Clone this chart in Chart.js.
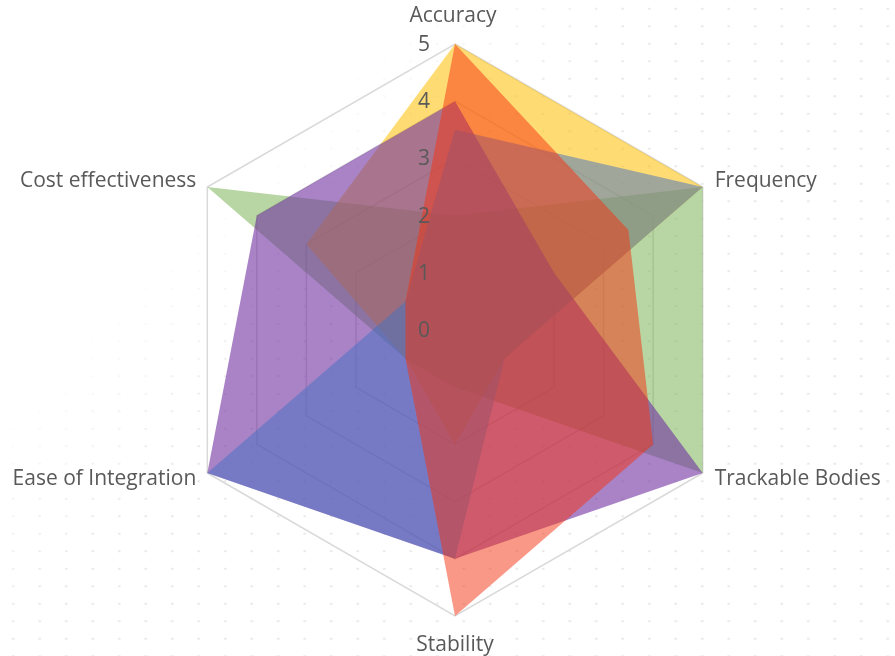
<!DOCTYPE html>
<html>
<head>
<meta charset="utf-8">
<script src="https://cdn.jsdelivr.net/npm/chart.js@4.4.1/dist/chart.umd.min.js"></script>
<style>
  html, body { margin: 0; padding: 0; background: #fff; }
  #wrap { position: relative; width: 895px; height: 656px; overflow: hidden; }
  #dots {
    position: absolute; left: 0; top: 0; width: 895px; height: 656px;
    background-image: radial-gradient(ellipse 1.6px 1.1px, #d4d4d4 60%, transparent 100%);
    background-size: 26.5px 17.5px;
    -webkit-mask-image: linear-gradient(135deg, transparent 0%, transparent 26%, #000 42%);
    mask-image: linear-gradient(135deg, transparent 0%, transparent 26%, #000 42%);
    opacity: 0.6;
  }
  #chart { position: absolute; left: 0; top: 0; }
</style>
</head>
<body>
<div id="wrap">
  <div id="dots"></div>
  <canvas id="chart" width="895" height="656"></canvas>
</div>
<script>
const labels = ['Accuracy', 'Frequency', 'Trackable Bodies', 'Stability', 'Ease of Integration', 'Cost effectiveness'];
const tickLabels = ['0', '1', '2', '3', '4', '5'];

const goldValues = [5, 5, 1, 2, 1, 3];
const greenValues = [2, 5, 5, 1, 1, 5];
const purpleValues = [4, 2, 5, 4, 5, 4];
const blueValues = [3.5, 5, 1, 4, 5, 1];
const redValues = [5, 3.5, 4, 5, 1, 1];

// label placement around the outer ring: [dx, dy, align]
const labelPlace = [
  [-2, -28, 'center'],
  [12, -6, 'left'],
  [12, 6, 'left'],
  [0, 29, 'center'],
  [-11, 6, 'right'],
  [-11, -6, 'right']
];

const textPlugin = {
  id: 'textPlugin',
  afterDatasetsDraw(chart) {
    const r = chart.scales.r;
    const ctx = chart.ctx;
    ctx.save();
    ctx.fillStyle = '#595959';
    ctx.font = '21px "Open Sans"';
    ctx.textBaseline = 'middle';

    ctx.textAlign = 'center';
    tickLabels.forEach(t => {
      const d = r.getDistanceFromCenterForValue(Number(t));
      ctx.fillText(t, r.xCenter - 31, r.yCenter - d + 1);
    });

    labels.forEach((name, i) => {
      const p = r.getPointPosition(i, r.drawingArea);
      const [dx, dy, align] = labelPlace[i];
      ctx.textAlign = align;
      ctx.fillText(name, p.x + dx, p.y + dy);
    });
    ctx.restore();
  }
};

function series(label, data, color) {
  return { label, data, backgroundColor: color, borderWidth: 0, pointRadius: 0, fill: true };
}

// first dataset is drawn on top
new Chart(document.getElementById('chart'), {
  type: 'radar',
  data: {
    labels,
    datasets: [
      series('Series 5', redValues, 'rgba(245, 50, 15, 0.5)'),
      series('Series 4', blueValues, 'rgba(68, 114, 196, 0.5)'),
      series('Series 3', purpleValues, 'rgba(112, 48, 160, 0.6)'),
      series('Series 1', goldValues, 'rgba(255, 192, 0, 0.55)'),
      series('Series 2', greenValues, 'rgba(112, 173, 71, 0.5)')
    ]
  },
  options: {
    responsive: false,
    animation: false,
    devicePixelRatio: 1,
    plugins: { legend: { display: false }, tooltip: { enabled: false } },
    elements: { line: { tension: 0 } },
    scales: {
      r: {
        min: 0,
        max: 5,
        ticks: { display: false, stepSize: 1 },
        pointLabels: { display: false },
        angleLines: { display: false },
        grid: { circular: false, color: '#d9d9d9', lineWidth: 1.5 },
        afterFit(scale) {
          scale.xCenter = 455;
          scale.yCenter = 330;
          scale.drawingArea = 286;
        }
      }
    }
  },
  plugins: [textPlugin]
});
</script>
</body>
</html>
